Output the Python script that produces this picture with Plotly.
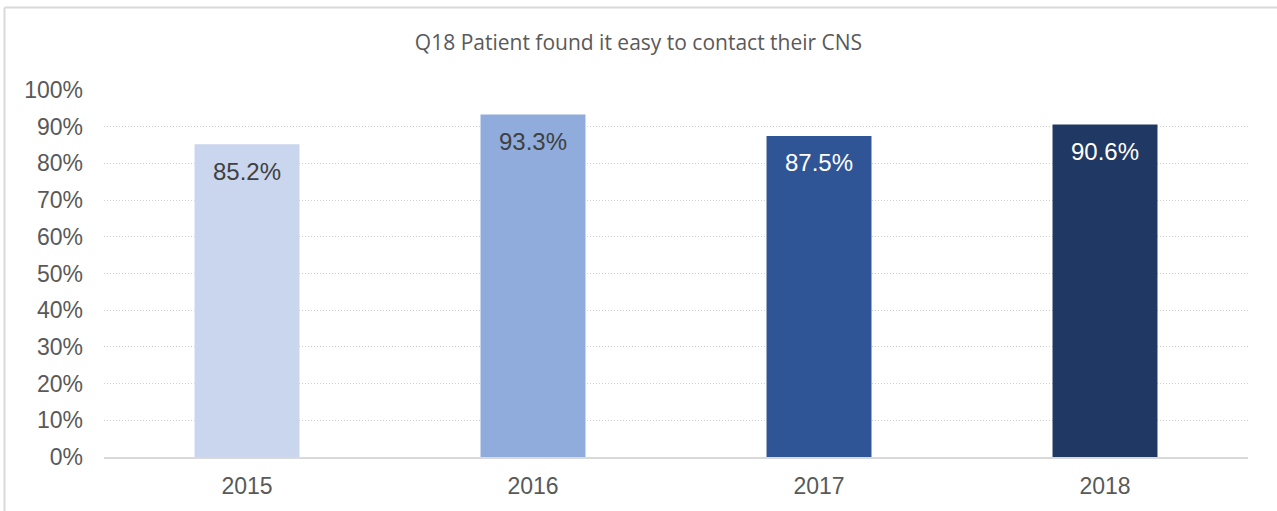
import plotly.graph_objects as go

# Survey results by year
years = ["2015", "2016", "2017", "2018"]
values = [85.2, 93.3, 87.5, 90.6]
bar_colors = ["#C9D6EE", "#8FACDC", "#2F5597", "#203864"]
label_colors = ["#404040", "#404040", "#FFFFFF", "#FFFFFF"]
y_ticks = [0, 10, 20, 30, 40, 50, 60, 70, 80, 90, 100]

W, H = 1277, 511
ml, mr, mt, mb = 104, 29, 90, 54
pw, ph = W - ml - mr, H - mt - mb

fig = go.Figure()
fig.add_trace(go.Bar(
    x=years, y=values,
    marker=dict(color=bar_colors, line=dict(width=0)),
    width=0.367,
    hoverinfo="skip",
))

# value labels just inside the top of each bar (x given as category index)
for i, (v, c) in enumerate(zip(values, label_colors)):
    fig.add_annotation(
        x=i, y=v, xref="x", yref="y",
        text=f"{v:.1f}%", showarrow=False,
        yanchor="middle", yshift=-27,
        font=dict(family="Liberation Sans, Arial", size=24, color=c),
    )

# outer frame (left and top edges)
def px_x(p):
    return (p - ml) / pw

def px_y(p):
    return (H - mb - p) / ph

frame = dict(color="#D9D9D9", width=2)
fig.add_shape(type="line", xref="paper", yref="paper",
              x0=px_x(4.5), x1=px_x(W + 5), y0=px_y(7.5), y1=px_y(7.5), line=frame)
fig.add_shape(type="line", xref="paper", yref="paper",
              x0=px_x(4.5), x1=px_x(4.5), y0=px_y(7.5), y1=px_y(H + 5), line=frame)

fig.update_layout(
    width=W, height=H,
    margin=dict(l=ml, r=mr, t=mt, b=mb, pad=0, autoexpand=False),
    paper_bgcolor="white", plot_bgcolor="white",
    showlegend=False,
    title=dict(
        text="Q18 Patient found it easy to contact their CNS",
        x=0.5, xanchor="center", xref="container",
        y=1 - 43 / H, yanchor="middle", yref="container",
        font=dict(family="Open Sans", size=21, color="#595959"),
    ),
    xaxis=dict(
        type="category", range=[-0.5, len(years) - 0.5], automargin=False,
        showgrid=False, showline=True, linecolor="#D9D9D9", linewidth=2,
        ticks="", ticklabelstandoff=7,
        tickfont=dict(family="Liberation Sans, Arial", size=23, color="#595959"),
    ),
    yaxis=dict(
        range=[0, 100], tickvals=y_ticks, ticktext=[f"{t}%" for t in y_ticks],
        automargin=False,
        showgrid=True, gridcolor="#D0D0D0", gridwidth=1, griddash="1px,2px",
        zeroline=False, showline=False, ticks="", ticklabelstandoff=20,
        tickfont=dict(family="Liberation Sans, Arial", size=23, color="#595959"),
    ),
)

fig.write_html("out.html")
